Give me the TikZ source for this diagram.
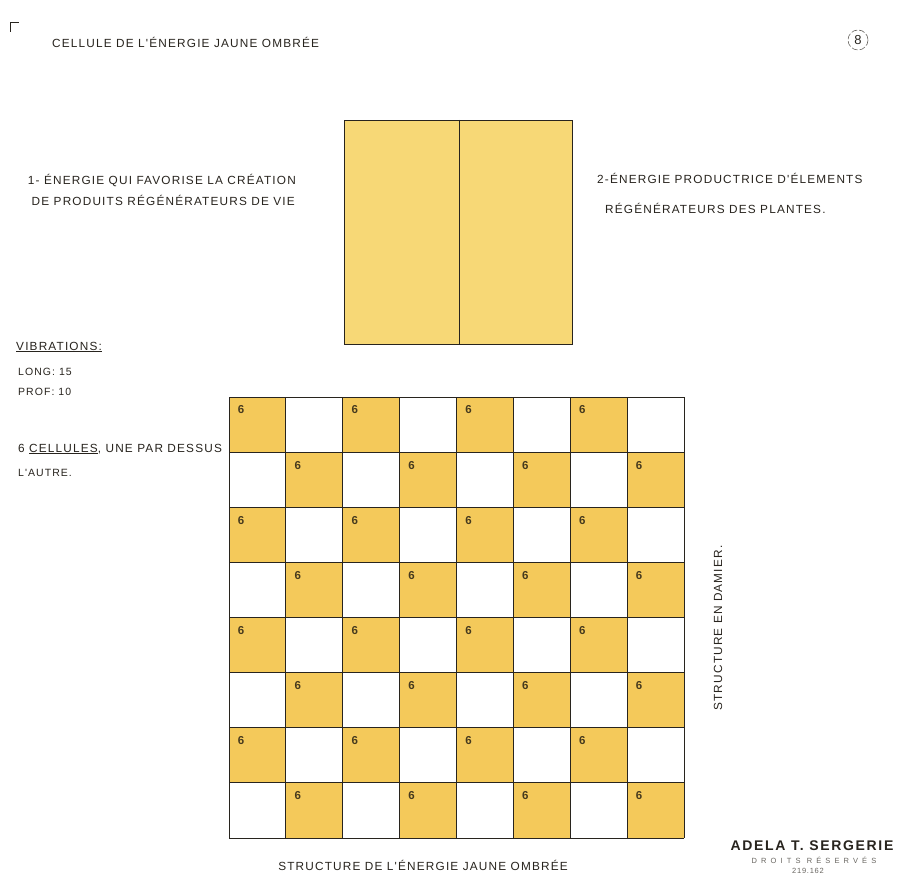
\documentclass[tikz,border=0pt]{standalone}
\usepackage{fontspec}
\usepackage{tikz}
\usetikzlibrary{calc}

\newfontfamily\plume[LetterSpace=10]{Liberation Sans}
\newfontfamily\cachet[LetterSpace=12]{Liberation Sans}
\newfontfamily\cachetfin[LetterSpace=55]{Liberation Sans}
\newfontfamily\cachetnum[LetterSpace=10]{Liberation Sans}

\definecolor{jaune}{RGB}{244,201,90}
\definecolor{jauneclair}{RGB}{247,216,118}
\definecolor{encre}{RGB}{40,36,30}
\definecolor{brun}{RGB}{70,58,30}

\tikzset{
  lettre/.style={font=\plume\fontsize{11.8}{13}\selectfont, text=encre, inner sep=0pt},
  petite/.style={font=\plume\fontsize{10.5}{12}\selectfont, text=encre, inner sep=0pt},
  chiffre/.style={font=\plume\bfseries\fontsize{11.5}{12}\selectfont, text=brun, inner sep=0pt},
  trait/.style={draw=encre, line width=0.9pt}
}

\begin{document}
\begin{tikzpicture}[x=1pt,y=-1pt]
\useasboundingbox[fill=white] (0,0) rectangle (905,877);

% coin et numero de page
\draw[encre, line width=0.8pt] (10,32) -- (10,22) -- (19,22);
\draw[encre!70, line width=0.6pt, dash pattern=on 6pt off 2pt] (858,40) circle (10);
\node[lettre, font=\plume\fontsize{13}{14}\selectfont] (page) at (858,40) {8};

\node[lettre, anchor=west] (titre) at (52,42) {CELLULE DE L'ÉNERGIE JAUNE OMBRÉE};

% la cellule
\fill[jauneclair] (344,120) rectangle (572,344);
\draw[trait] (344,120) rectangle (572,344);
\draw[trait] (459,120) -- (459,344);

\node[lettre, anchor=east] (un) at (296,181) {1- ÉNERGIE QUI FAVORISE LA CRÉATION};
\node[lettre, anchor=east] (unb) at (295,200) {DE PRODUITS RÉGÉNÉRATEURS DE VIE};
\node[lettre, anchor=west] (deux) at (597,178) {2-ÉNERGIE PRODUCTRICE D'ÉLEMENTS};
\node[lettre, anchor=west] (deuxb) at (605,208) {RÉGÉNÉRATEURS DES PLANTES.};

% vibrations
\node[lettre, anchor=west] (vib) at (16,347) {\underline{VIBRATIONS:}};
\node[petite, anchor=west] (long) at (18,372) {LONG: 15};
\node[petite, anchor=west] (prof) at (18,392) {PROF: 10};
\node[petite, anchor=west, font=\plume\fontsize{11.8}{13}\selectfont] (six) at (18,449) {6 \underline{CELLULES}, UNE PAR DESSUS};
\node[petite, anchor=west] (autre) at (18,473) {L'AUTRE.};

% damier
\foreach \r in {0,...,7}{
  \foreach \c in {0,...,7}{
    \pgfmathtruncatemacro{\k}{mod(\r+\c,2)}
    \ifnum\k=0
      \fill[jaune] ({229+\c*56.875},{397+\r*55.125}) rectangle ++(56.875,55.125);
      \node[chiffre] (n\r\c) at ({229+\c*56.875+12},{397+\r*55.125+13}) {6};
    \fi
  }
}
\foreach \i in {0,...,8}{
  \draw[trait] ({229+\i*56.875},397) -- ({229+\i*56.875},838);
  \draw[trait] (229,{397+\i*55.125}) -- (684,{397+\i*55.125});
}

\node[lettre, rotate=90] (damier) at (718,628) {STRUCTURE EN DAMIER.};
\node[lettre] (structure) at (423,865) {STRUCTURE DE L'ÉNERGIE JAUNE OMBRÉE};

% signature
\node[font=\cachet\bfseries\fontsize{14}{15}\selectfont, text=encre, inner sep=0pt] (nom) at (812,846) {ADELA T. SERGERIE};
\node[font=\cachetfin\fontsize{7.5}{8}\selectfont, text=encre!70, inner sep=0pt] (droits) at (814,860) {DROITS RÉSERVÉS};
\node[font=\cachetnum\fontsize{7.5}{8}\selectfont, text=encre!70, inner sep=0pt] (num) at (808,871) {219.162};
\end{tikzpicture}
\end{document}
